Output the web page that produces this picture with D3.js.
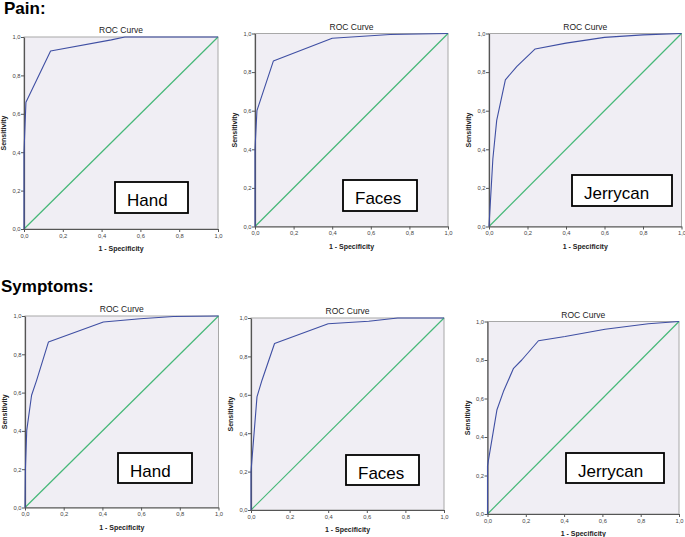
<!DOCTYPE html>
<html>
<head>
<meta charset="utf-8">
<script src="https://cdn.jsdelivr.net/npm/d3@7"></script>
<style>
  html, body { margin: 0; padding: 0; background: #ffffff; }
  svg { display: block; font-family: "Liberation Sans", Arial, Helvetica, sans-serif; }
</style>
</head>
<body>
<svg id="chart" width="685" height="537"></svg>
<script>
// ---------- DATA ----------
const groupTitles = ["Pain:", "Symptoms:"];
const instrumentNames = ["Hand", "Faces", "Jerrycan"];
const chartTitle = "ROC Curve";
const xAxisTitle = "1 - Specificity";
const yAxisTitle = "Sensitivity";
const tickValues = [0.0, 0.2, 0.4, 0.6, 0.8, 1.0];

// ROC curves: 1 - specificity (fpr) and sensitivity (tpr)
const painHandFpr = [0, 0, 0.01, 0.137, 0.45, 0.52, 1];
const painHandTpr = [0, 0.4, 0.66, 0.927, 0.985, 1.0, 1];

const painFacesFpr = [0, 0, 0.01, 0.095, 0.4, 0.7, 1];
const painFacesTpr = [0, 0.4, 0.6, 0.857, 0.975, 0.995, 1];

const painJerrycanFpr = [0, 0.02, 0.04, 0.085, 0.145, 0.24, 0.4, 0.6, 0.8, 1];
const painJerrycanTpr = [0, 0.35, 0.55, 0.76, 0.83, 0.92, 0.95, 0.98, 0.993, 1];

const sympHandFpr = [0, 0.002, 0.009, 0.034, 0.06, 0.121, 0.405, 0.595, 0.767, 1];
const sympHandTpr = [0, 0.195, 0.403, 0.586, 0.664, 0.864, 0.969, 0.986, 0.997, 1];

const sympFacesFpr = [0, 0, 0.031, 0.057, 0.122, 0.40, 0.61, 0.76, 1];
const sympFacesTpr = [0, 0.2, 0.589, 0.676, 0.867, 0.97, 0.983, 1.0, 1];

const sympJerrycanFpr = [0, 0, 0.049, 0.083, 0.136, 0.179, 0.266, 0.405, 0.614, 0.84, 1];
const sympJerrycanTpr = [0, 0.25, 0.54, 0.636, 0.757, 0.80, 0.90, 0.922, 0.96, 0.988, 1];

// reference (chance) diagonal
const diagFpr = [0, 1];
const diagTpr = [0, 1];

// ---------- LAYOUT ----------
const headingLayout = [
  { x: 4, y: 14, size: 17 },
  { x: 1, y: 292, size: 17 }
];
const panelLayout = [
  { g: 0, name: 0, fpr: painHandFpr, tpr: painHandTpr, L: 24, R: 218, T: 37, B: 229, box: [115, 182, 73, 31] },
  { g: 0, name: 1, fpr: painFacesFpr, tpr: painFacesTpr, L: 255, R: 448, T: 33.5, B: 226.5, box: [343, 180, 74, 31] },
  { g: 0, name: 2, fpr: painJerrycanFpr, tpr: painJerrycanTpr, L: 489, R: 681.5, T: 33.5, B: 226.5, box: [572, 175, 100, 31] },
  { g: 1, name: 0, fpr: sympHandFpr, tpr: sympHandTpr, L: 25, R: 218.5, T: 316, B: 507.5, box: [118, 453, 74, 30] },
  { g: 1, name: 1, fpr: sympFacesFpr, tpr: sympFacesTpr, L: 251, R: 444, T: 318, B: 510, box: [346, 455, 73, 30] },
  { g: 1, name: 2, fpr: sympJerrycanFpr, tpr: sympJerrycanTpr, L: 487.5, R: 679, T: 321.5, B: 514, box: [566, 453, 98, 30] }
];

const svg = d3.select("#chart");

// headings
groupTitles.forEach((t, i) => {
  svg.append("text")
    .attr("x", headingLayout[i].x)
    .attr("y", headingLayout[i].y)
    .attr("font-size", headingLayout[i].size)
    .attr("font-weight", "bold")
    .attr("fill", "#000")
    .text(t);
});

const fmt = v => d3.format(".1f")(v).replace(".", ",");

panelLayout.forEach(p => {
  const x = d3.scaleLinear().domain([0, 1]).range([p.L, p.R]);
  const y = d3.scaleLinear().domain([0, 1]).range([p.B, p.T]);
  const g = svg.append("g");

  // plot background
  g.append("rect")
    .attr("x", x(0)).attr("y", y(1))
    .attr("width", x(1) - x(0)).attr("height", y(0) - y(1))
    .attr("fill", "#f0eef4")
    .attr("stroke", "#a8a8a8").attr("stroke-width", 1);

  // diagonal
  const line = d3.line().x(d => x(d[0])).y(d => y(d[1]));
  g.append("path")
    .datum(diagFpr.map((v, i) => [v, diagTpr[i]]))
    .attr("d", line)
    .attr("fill", "none")
    .attr("stroke", "#46b878")
    .attr("stroke-width", 1.2);

  // axes
  const xAxis = d3.axisBottom(x).tickValues(tickValues).tickFormat(fmt).tickSize(3).tickSizeOuter(0);
  const yAxis = d3.axisLeft(y).tickValues(tickValues).tickFormat(fmt).tickSize(3).tickSizeOuter(0);
  const gx = g.append("g").attr("transform", `translate(0,${p.B})`).call(xAxis);
  const gy = g.append("g").attr("transform", `translate(${p.L},0)`).call(yAxis);
  [gx, gy].forEach(a => {
    a.select(".domain").attr("stroke", "#555").attr("stroke-width", 1.2);
    a.selectAll(".tick line").attr("stroke", "#555");
    a.selectAll(".tick text")
      .attr("font-size", 5.8)
      .attr("fill", "#444")
      .attr("font-family", "'Liberation Sans', Arial, sans-serif");
  });
  gx.selectAll(".tick text").attr("dy", "0.95em").attr("y", 3);
  gy.selectAll(".tick text").attr("x", -3.5);

  // ROC curve
  g.append("path")
    .datum(p.fpr.map((v, i) => [v, p.tpr[i]]))
    .attr("d", line)
    .attr("fill", "none")
    .attr("stroke", "#3f4fa3")
    .attr("stroke-width", 1.1)
    .attr("stroke-linejoin", "round");

  // title
  g.append("text")
    .attr("x", (p.L + p.R) / 2)
    .attr("y", p.T - 4)
    .attr("text-anchor", "middle")
    .attr("font-size", 8.5)
    .attr("fill", "#222")
    .text(chartTitle);

  // x axis title
  g.append("text")
    .attr("x", (p.L + p.R) / 2)
    .attr("y", p.B + 22)
    .attr("text-anchor", "middle")
    .attr("font-size", 7)
    .attr("font-weight", "bold")
    .attr("fill", "#222")
    .text(xAxisTitle);

  // y axis title
  g.append("text")
    .attr("transform", `translate(${p.L - 18},${(p.T + p.B) / 2}) rotate(-90)`)
    .attr("text-anchor", "middle")
    .attr("font-size", 7)
    .attr("font-weight", "bold")
    .attr("fill", "#222")
    .text(yAxisTitle);

  // label box
  const [bx, by, bw, bh] = p.box;
  g.append("rect")
    .attr("x", bx).attr("y", by).attr("width", bw).attr("height", bh)
    .attr("fill", "#fff").attr("stroke", "#000").attr("stroke-width", 1.8);
  g.append("text")
    .attr("x", bx + 12)
    .attr("y", by + 23.5)
    .attr("font-size", 17)
    .attr("fill", "#000")
    .text(instrumentNames[p.name]);
});
</script>
</body>
</html>
